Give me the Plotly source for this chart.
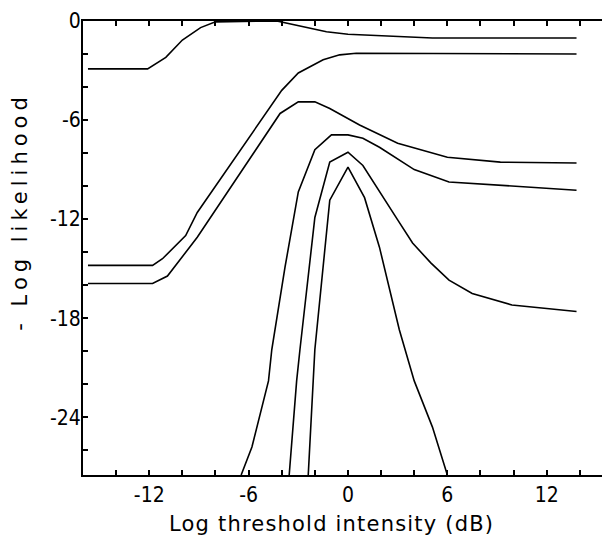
import plotly.graph_objects as go

# threshold intensity (dB) / -log likelihood
c1_x = [-15.7, -12.1, -11.0, -10.0, -8.9, -8.0, -4.3, -1.3, 0.0, 5.1, 13.8]
c1_y = [-2.9, -2.9, -2.2, -1.15, -0.4, -0.05, 0.0, -0.65, -0.8, -1.03, -1.03]

c2_x = [-15.7, -11.8, -11.2, -9.8, -9.1, -4.0, -3.0, -1.5, -0.5, 0.5, 13.8]
c2_y = [-14.8, -14.8, -14.4, -13.0, -11.6, -4.2, -3.15, -2.35, -2.05, -1.95, -2.0]

c3_x = [-15.7, -11.8, -10.9, -9.1, -4.1, -3.0, -2.0, -1.1, 0.7, 3.0, 6.0, 9.2, 13.8]
c3_y = [-15.9, -15.9, -15.45, -13.1, -5.6, -4.9, -4.9, -5.3, -6.3, -7.4, -8.25, -8.55, -8.6]

c4_x = [-6.45, -5.8, -4.8, -4.6, -3.8, -3.5, -3.0, -2.0, -1.0, 0.0, 0.9, 1.9, 4.0, 6.1, 9.9, 13.8]
c4_y = [-27.5, -25.8, -21.8, -19.9, -14.9, -13.1, -10.35, -7.8, -6.9, -6.9, -7.1, -7.65, -9.0, -9.75, -10.0, -10.25]

c5_x = [-3.55, -3.1, -2.9, -2.0, -1.1, 0.0, 0.9, 1.9, 3.0, 3.9, 5.0, 6.1, 7.5, 9.9, 13.8]
c5_y = [-27.5, -21.8, -19.9, -11.9, -8.55, -7.95, -8.75, -10.35, -12.05, -13.45, -14.65, -15.7, -16.5, -17.2, -17.6]

c6_x = [-2.4, -2.1, -2.0, -1.1, 0.0, 1.0, 1.9, 3.1, 4.0, 5.1, 6.0]
c6_y = [-27.5, -21.8, -19.9, -10.85, -8.85, -10.7, -13.7, -18.7, -21.8, -24.6, -27.5]

curves = [(c1_x, c1_y), (c2_x, c2_y), (c3_x, c3_y), (c4_x, c4_y), (c5_x, c5_y), (c6_x, c6_y)]

x_ticks = list(range(-14, 15, 2))
x_labels = ["-12", "-6", "0", "6", "12"]
y_ticks = list(range(-26, 1, 2))
y_labels = ["0", "-6", "-12", "-18", "-24"]

tick_font = dict(family="DejaVu Sans Condensed, sans-serif", size=21, color="black")
title_font = dict(family="DejaVu Sans, sans-serif", size=21, color="black")

fig = go.Figure()
for xs, ys in curves:
    fig.add_trace(
        go.Scatter(
            x=xs,
            y=ys,
            mode="lines",
            line=dict(color="black", width=1.6),
            showlegend=False,
            hoverinfo="skip",
        )
    )

fig.update_xaxes(
    range=[-16, 15.7],
    tickvals=x_ticks,
    ticktext=[str(v) if str(v) in x_labels else "" for v in x_ticks],
    ticks="inside",
    ticklen=5,
    tickwidth=1.5,
    tickcolor="black",
    showline=True,
    linecolor="black",
    linewidth=1.6,
    mirror="ticks",
    showgrid=False,
    zeroline=False,
    tickfont=tick_font,
    automargin=False,
)
fig.update_yaxes(
    range=[-27.5, 0],
    tickvals=y_ticks,
    ticktext=[str(v) if str(v) in y_labels else "" for v in y_ticks],
    ticks="inside",
    ticklen=5,
    tickwidth=1.5,
    tickcolor="black",
    showline=True,
    linecolor="black",
    linewidth=2,
    mirror="ticks",
    showgrid=False,
    zeroline=False,
    tickfont=tick_font,
    ticklabelstandoff=-4,
    automargin=False,
)

# axis titles placed by hand, letter-spaced like the typeset original
fig.add_annotation(
    text='<span style="letter-spacing:1.2px">Log threshold intensity (dB)</span>',
    xref="paper", yref="paper",
    x=0.474, y=-0.108,
    xanchor="center", yanchor="middle",
    showarrow=False,
    font=title_font,
)
fig.add_annotation(
    text='<span style="letter-spacing:5px">- Log likelihood</span>',
    xref="paper", yref="paper",
    x=-0.12, y=0.58,
    xanchor="center", yanchor="middle",
    textangle=-90,
    showarrow=False,
    font=title_font,
)

# page body has an 8px default margin, so the figure is 8px smaller
fig.update_layout(
    width=602,
    height=529,
    plot_bgcolor="white",
    paper_bgcolor="white",
    margin=dict(l=75, r=2, t=13, b=62),
)

fig.write_html("out.html")
